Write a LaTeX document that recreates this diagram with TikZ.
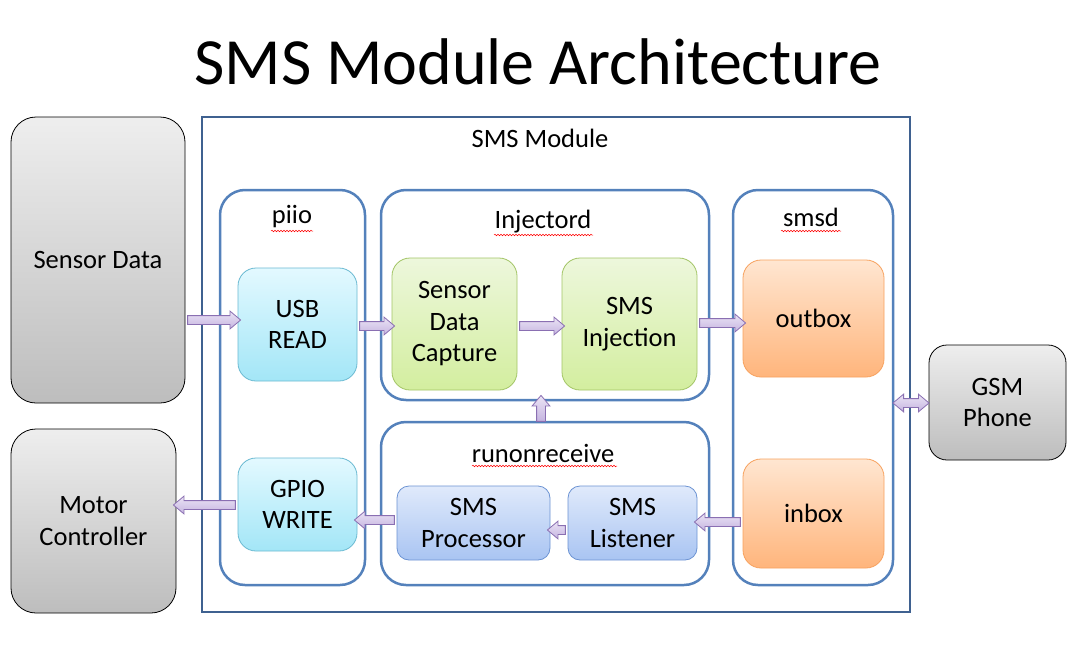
\documentclass[tikz,border=0pt]{standalone}
\usepackage{fontspec}
\setmainfont{Carlito}
\usetikzlibrary{shapes.arrows,calc,decorations.pathmorphing}
\definecolor{grayT}{HTML}{EEEEEE}\definecolor{grayB}{HTML}{BDBDBD}
\definecolor{cyanT}{HTML}{E3F9FF}\definecolor{cyanB}{HTML}{A3E6F7}\definecolor{cyanD}{HTML}{6BBAD2}
\definecolor{grnT}{HTML}{EDF7DC}\definecolor{grnB}{HTML}{D3EE9F}\definecolor{grnD}{HTML}{A3C566}
\definecolor{orT}{HTML}{FFE6D1}\definecolor{orB}{HTML}{FFB57C}\definecolor{orD}{HTML}{F7A25F}
\definecolor{bluT}{HTML}{E0EAFB}\definecolor{bluB}{HTML}{A9C4F2}\definecolor{bluD}{HTML}{6C93D3}
\definecolor{contD}{HTML}{5481BB}\definecolor{outD}{HTML}{3F6190}
\definecolor{arT}{HTML}{EBE4F5}\definecolor{arB}{HTML}{C5B4E0}\definecolor{arD}{HTML}{8A6FB2}
\begin{document}
\begin{tikzpicture}[x=1pt,y=-1pt,
  txt/.style={font=\fontsize{26.5}{31.5}\selectfont, align=center, text=black},
  extbox/.style={draw=black, line width=0.8pt, top color=grayT, bottom color=grayB, rounded corners=#1, outer sep=0pt, inner sep=0pt, txt},
  cont/.style={draw=contD, line width=2.5pt, rounded corners=25pt, outer sep=0pt, inner sep=0pt},
  cybox/.style={draw=cyanD, line width=0.8pt, top color=cyanT, bottom color=cyanB, rounded corners=18pt, outer sep=0pt, inner sep=0pt, txt},
  grbox/.style={draw=grnD, line width=0.8pt, top color=grnT, bottom color=grnB, rounded corners=18pt, outer sep=0pt, inner sep=0pt, txt},
  orbox/.style={draw=orD, line width=0.8pt, top color=orT, bottom color=orB, rounded corners=18pt, outer sep=0pt, inner sep=0pt, txt},
  blbox/.style={draw=bluD, line width=0.8pt, top color=bluT, bottom color=bluB, rounded corners=12pt, outer sep=0pt, inner sep=0pt, txt},
  barrow/.style={single arrow, draw=arD, line width=0.8pt, top color=arT, bottom color=arB,
    inner sep=4pt, text height=0pt, text depth=0pt, text width=0pt,
    single arrow head extend=4.5pt, single arrow head indent=0pt, single arrow tip angle=80, outer sep=0pt},
  dbarrow/.style={double arrow, draw=arD, line width=0.8pt, top color=arT, bottom color=arB,
    inner sep=4pt, text height=0pt, text depth=0pt, text width=0pt,
    double arrow head extend=4.5pt, double arrow head indent=0pt, double arrow tip angle=80, outer sep=0pt},
  squig/.style={red, line width=0.5pt, decorate, decoration={snake, segment length=3pt, amplitude=0.8pt}}
]
\useasboundingbox (0,0) rectangle (1077,659);
\fill[white] (0,0) rectangle (1077,659);

% title
\node[font=\fontsize{66}{70}\selectfont] (title) at (538,62) {SMS Module Architecture};

% outer module
\node[draw=outD, line width=2.5pt, minimum width=708pt, minimum height=495pt, outer sep=0pt, inner sep=0pt] (mod) at (556,364.5) {};
\node[txt] (modlbl) at (540,138) {SMS Module};

% containers
\node[cont, minimum width=145pt, minimum height=395pt] (piio) at (292.5,387.5) {};
\node[cont, minimum width=328pt, minimum height=210pt] (inj) at (545,295) {};
\node[cont, minimum width=328pt, minimum height=163pt] (ror) at (545,503.5) {};
\node[cont, minimum width=160pt, minimum height=395pt] (smsd) at (813,387.5) {};
\node[txt] (piiolbl) at (292,217) {piio};
\node[txt] (injlbl) at (543,222) {Injectord};
\node[txt] (rorlbl) at (543,453) {runonreceive};
\node[txt] (smsdlbl) at (811,217) {smsd};
\draw[squig] (271,231) -- (313,231);
\draw[squig] (494,235) -- (593,235);
\draw[squig] (781,231) -- (841,231);
\draw[squig] (472,466) -- (617,466);

% external boxes
\node[extbox=25pt, minimum width=174pt, minimum height=286pt] (sensor) at (98,260) {Sensor Data};
\node[extbox=25pt, minimum width=165pt, minimum height=184pt] (motor) at (93.5,521) {Motor\\Controller};
\node[extbox=18pt, minimum width=137pt, minimum height=115pt] (gsm) at (997.5,402.5) {GSM\\Phone};

% inner boxes
\node[cybox, minimum width=119pt, minimum height=113pt] (usb) at (297.5,324.5) {USB\\READ};
\node[cybox, minimum width=119pt, minimum height=93pt] (gpio) at (297.5,504.5) {GPIO\\WRITE};
\node[grbox, minimum width=125pt, minimum height=132pt] (sdc) at (454.5,324) {Sensor\\Data\\Capture};
\node[grbox, minimum width=135pt, minimum height=132pt] (sinj) at (629.5,324) {SMS\\Injection};
\node[orbox, minimum width=141pt, minimum height=117pt] (outbox) at (813.5,318.5) {outbox};
\node[orbox, minimum width=141pt, minimum height=109pt] (inbox) at (813.5,513.5) {inbox};
\node[blbox, minimum width=153pt, minimum height=74pt] (proc) at (473.5,523) {SMS\\Processor};
\node[blbox, minimum width=129pt, minimum height=74pt] (list) at (632.5,523) {SMS\\Listener};

% arrows
\path let \p1=(sensor.east), \p2=(usb.west) in
  node[barrow, minimum height={\x2-\x1}] (a1) at ({(\x1+\x2)/2},320) {};
\path let \p1=(usb.east), \p2=(sdc.west) in
  node[barrow, minimum height={\x2-\x1}] (a2) at ({(\x1+\x2)/2},326) {};
\path let \p1=(sdc.east), \p2=(sinj.west) in
  node[barrow, minimum height={\x2-\x1}] (a3) at ({(\x1+\x2)/2},326) {};
\path let \p1=(sinj.east), \p2=(outbox.west) in
  node[barrow, minimum height={\x2-\x1}] (a4) at ({(\x1+\x2)/2},323) {};
\path let \p1=(inj.south), \p2=(ror.north) in
  node[barrow, shape border rotate=90, minimum height={\y1-\y2+4pt}] (a5) at (541,{(\y1+\y2)/2}) {};
\path let \p1=(smsd.east), \p2=(gsm.west) in
  node[dbarrow, minimum height={\x2-\x1}] (a6) at ({(\x1+\x2)/2},403) {};
\path let \p1=(list.east), \p2=(inbox.west) in
  node[barrow, shape border rotate=180, minimum height={\x2-\x1}] (a7) at ({(\x1+\x2)/2},522) {};
\path let \p1=(proc.east), \p2=(list.west) in
  node[barrow, shape border rotate=180, minimum height={\x2-\x1}] (a8) at ({(\x1+\x2)/2},530) {};
\path let \p1=(gpio.east), \p2=(proc.west) in
  node[barrow, shape border rotate=180, minimum height={\x2-\x1}] (a9) at ({(\x1+\x2)/2},520) {};
\path let \p1=(motor.east), \p2=(gpio.west) in
  node[barrow, shape border rotate=180, minimum height={\x2-\x1}] (a10) at ({(\x1+\x2)/2},505) {};
\end{tikzpicture}
\end{document}
